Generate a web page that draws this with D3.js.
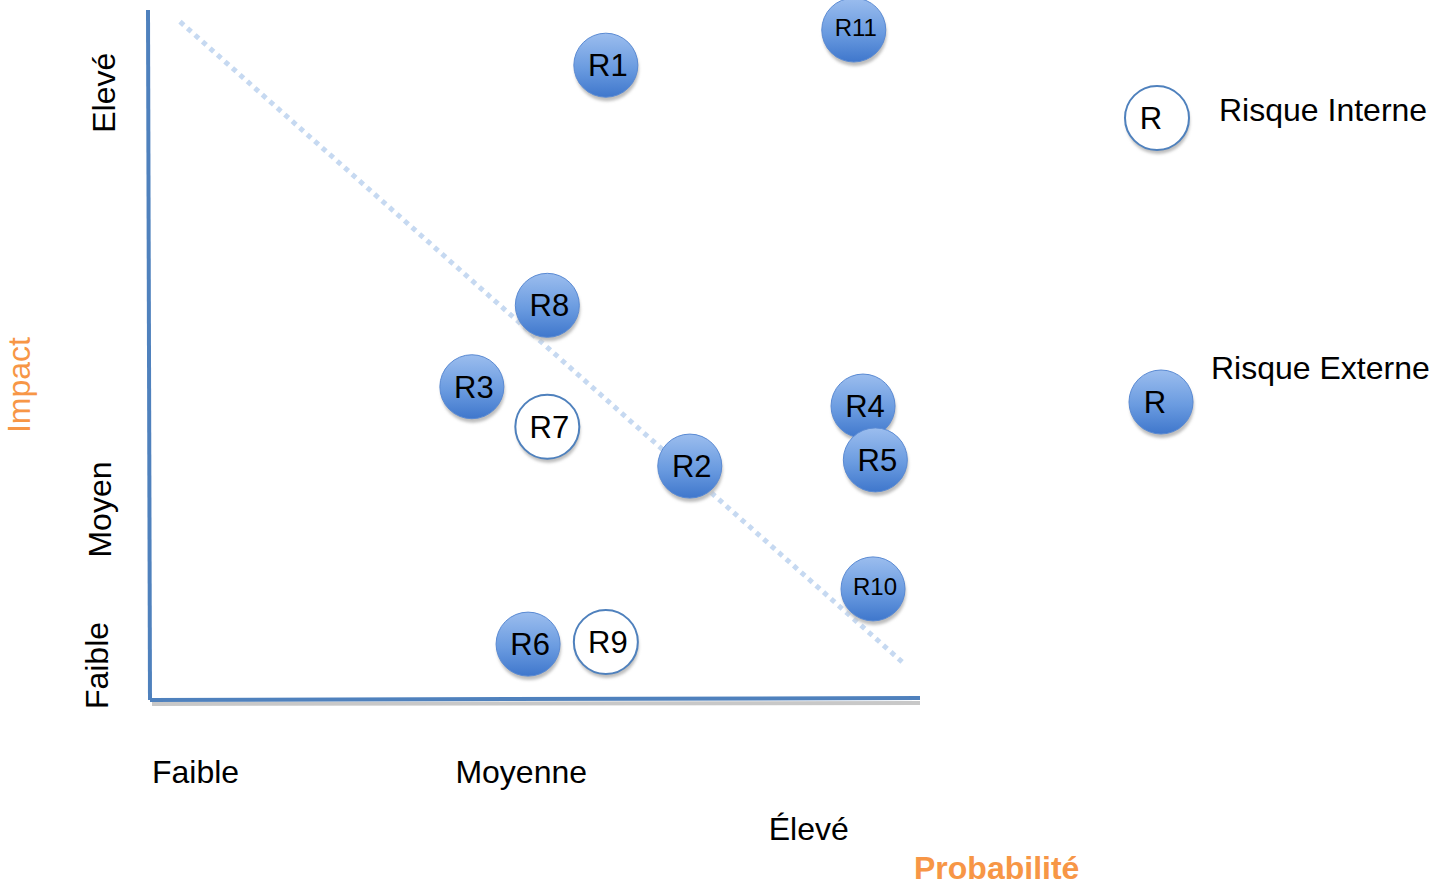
<!DOCTYPE html>
<html><head><meta charset="utf-8">
<script src="https://cdn.jsdelivr.net/npm/d3@7"></script>
<style>body{margin:0;background:#fff}svg{display:block;font-family:"Liberation Sans",Arial,sans-serif}</style>
</head><body>
<script>
const risks = ["R1","R11","R8","R3","R7","R2","R4","R5","R10","R6","R9"];
const probability = [59.2,91.4,51.6,41.8,51.6,70.1,92.6,94.2,93.9,49.1,59.2];
const impact = [92.0,97.1,57.2,45.4,39.6,33.9,42.6,34.8,16.1,8.1,8.4];
const kind = ["ext","ext","ext","ext","int","ext","ext","ext","ext","ext","int"];
const yLevels = ["Faible","Moyen","Elevé"];
const yLevelVals = [5,27.6,88];
const xLevels = ["Faible","Moyenne","Élevé"];
const xLevelVals = [0,39.4,80.1];
const legendLabels = ["Risque Interne","Risque Externe"];
const threshold = [[3.9,98.3],[97.7,5.5]];

const W=1429,H=886;
const x = d3.scaleLinear().domain([0,100]).range([150,920]);
const y = d3.scaleLinear().domain([0,100]).range([700,10]);
const svg = d3.select("body").append("svg").attr("width",W).attr("height",H);
const defs = svg.append("defs");
const g = defs.append("linearGradient").attr("id","blue").attr("x1",0).attr("y1",0).attr("x2",0).attr("y2",1);
g.append("stop").attr("offset","0%").attr("stop-color","#9bbdee");
g.append("stop").attr("offset","55%").attr("stop-color","#6a9be0");
g.append("stop").attr("offset","100%").attr("stop-color","#3f77cc");
const f = defs.append("filter").attr("id","blur").attr("x","-20%").attr("y","-20%").attr("width","140%").attr("height","140%");
f.append("feGaussianBlur").attr("stdDeviation",1.5);

// axes
svg.append("line").attr("x1",x(0)+2).attr("y1",y(0)+4).attr("x2",x(100)).attr("y2",y(0)+3)
  .attr("stroke","#c8c8c8").attr("stroke-width",4);
svg.append("line").attr("x1",x(0)-2).attr("y1",y(100)).attr("x2",x(0)).attr("y2",y(0))
  .attr("stroke","#4f81bd").attr("stroke-width",4);
svg.append("line").attr("x1",x(0)).attr("y1",y(0)).attr("x2",x(100)).attr("y2",y(0)-2)
  .attr("stroke","#4f81bd").attr("stroke-width",4);

// threshold dotted line
svg.append("line").attr("x1",x(threshold[0][0])).attr("y1",y(threshold[0][1]))
  .attr("x2",x(threshold[1][0])).attr("y2",y(threshold[1][1]))
  .attr("stroke","#c6d9f1").attr("stroke-width",5).attr("stroke-dasharray","5,5");

function bubble(sel, cx, cy, r, type, label, fs, dx, dy){
  const gg = sel.append("g").attr("transform",`translate(${cx},${cy})`);
  gg.append("circle").attr("cx",1).attr("cy",4).attr("r",r).attr("fill","#bdbdbd").attr("filter","url(#blur)");
  if(type==="ext"){
    gg.append("circle").attr("r",r).attr("fill","url(#blue)").attr("stroke","#5a8ad3").attr("stroke-width",1);
  } else {
    gg.append("circle").attr("r",r).attr("fill","#fff").attr("stroke","#4f81bd").attr("stroke-width",2);
  }
  gg.append("text").attr("x",dx).attr("y",dy).attr("dy","0.36em").attr("text-anchor","middle")
    .attr("font-size",fs).attr("fill","#000").text(label);
}
risks.forEach((r,i)=>{
  const small = r.length>2;
  bubble(svg, x(probability[i]), y(impact[i]), 32, kind[i], r, small?24:31, 2, small?-3:0);
});

// legend
bubble(svg, 1157, 118, 32, "int", "R", 31, -6, 0);
bubble(svg, 1161, 402, 32, "ext", "R", 31, -6, 0);
svg.append("text").attr("x",1219).attr("y",121).attr("font-size",32).text(legendLabels[0]);
svg.append("text").attr("x",1211).attr("y",379).attr("font-size",32).text(legendLabels[1]);

// y level labels
yLevels.forEach((t,i)=>{
  svg.append("text").attr("transform",`translate(${[108,111,115][i]},${y(yLevelVals[i])}) rotate(-90)`)
    .attr("text-anchor","middle").attr("font-size",32).text(t);
});
svg.append("text").attr("transform",`translate(30,385) rotate(-90)`).attr("text-anchor","middle")
  .attr("font-size",32).attr("fill","#f79646").text("Impact");

// x level labels
xLevels.forEach((t,i)=>{
  svg.append("text").attr("x",x(xLevelVals[i])+2).attr("y",[783,783,840][i]).attr("font-size",32).text(t);
});
svg.append("text").attr("x",914).attr("y",879).attr("font-size",32).attr("font-weight","bold")
  .attr("fill","#f79646").text("Probabilité");
</script>
</body></html>
